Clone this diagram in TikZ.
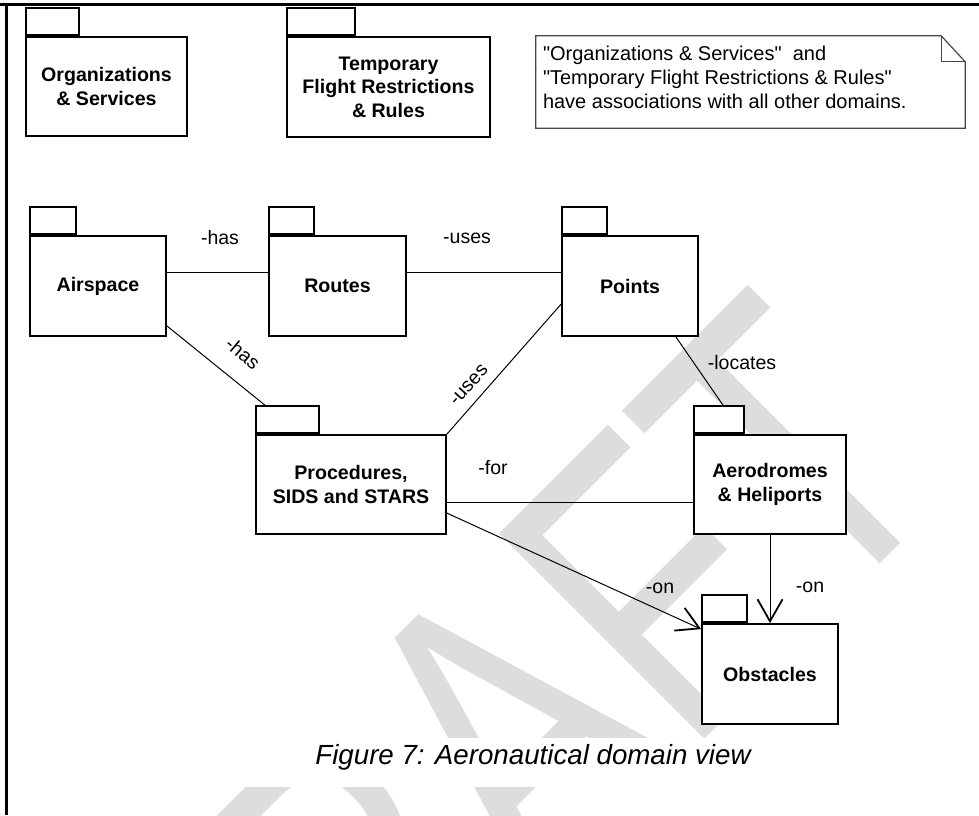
\documentclass[tikz,border=0pt]{standalone}
\usepackage{fontspec}
\setmainfont{Liberation Sans}
\usetikzlibrary{arrows.meta,calc}
\definecolor{wmgray}{RGB}{221,221,221}
\definecolor{notegray}{RGB}{70,70,70}
\begin{document}
\begin{tikzpicture}[x=1pt,y=-1pt,
  pkg/.style={draw=black, line width=1.8pt, fill=white, inner sep=0pt, align=center,
              font=\fontsize{19.6}{23.5}\selectfont\bfseries},
  pkgtab/.style={draw=black, line width=1.8pt, fill=white, inner sep=0pt,
                 minimum height=27pt, anchor=south west},
  assoc/.style={line width=1pt},
  navig/.style={line width=1pt, -{Straight Barb[length=22pt,width=25pt,line width=1.8pt]}},
  role/.style={font=\fontsize{19.5}{23}\selectfont, inner sep=0pt},
]
\useasboundingbox (0,0) rectangle (979,815);

% watermark behind the diagram
\node[font=\fontsize{315}{315}\selectfont, text=wmgray, inner sep=0pt,
      anchor=base west, rotate=45, yscale=1.34] (wm) at (215.9,1228) {DRAFT};
% caption band
\fill[white] (6.5,738) rectangle (979,787);

% packages
\node[pkg, minimum width=161pt, minimum height=99pt] (org) at (106.5,86.5) {Organizations\\\& Services};
\node[pkgtab, minimum width=53pt] (orgtab) at (org.north west) {};
\node[pkg, minimum width=203pt, minimum height=100pt] (tfr) at (388.5,87) {Temporary\\Flight Restrictions\\\& Rules};
\node[pkgtab, minimum width=68pt] (tfrtab) at (tfr.north west) {};

\node[pkg, minimum width=136pt, minimum height=100pt] (airspace) at (98,286) {Airspace};
\node[pkgtab, minimum width=46pt] (airspacetab) at (airspace.north west) {};
\node[pkg, minimum width=137pt, minimum height=100pt] (routes) at (337.5,286) {Routes};
\node[pkgtab, minimum width=45pt] (routestab) at (routes.north west) {};
\node[pkg, minimum width=136pt, minimum height=100pt] (points) at (630,286) {Points};
\node[pkgtab, minimum width=45pt] (pointstab) at (points.north west) {};

\node[pkg, minimum width=190pt, minimum height=99pt] (proc) at (351,484.5) {Procedures,\\SIDS and STARS};
\node[pkgtab, minimum width=63pt] (proctab) at (proc.north west) {};
\node[pkg, minimum width=152pt, minimum height=99pt] (aero) at (770,484.5) {Aerodromes\\\& Heliports};
\node[pkgtab, minimum width=50pt] (aerotab) at (aero.north west) {};
\node[pkg, minimum width=136pt, minimum height=100pt] (obst) at (770,674) {Obstacles};
\node[pkgtab, minimum width=45pt] (obsttab) at (obst.north west) {};

% associations
\draw[assoc] ([yshift=-37pt]airspace.north east) -- ([yshift=-37pt]routes.north west);
\draw[assoc] ([yshift=-37pt]routes.north east) -- ([yshift=-37pt]points.north west);
\draw[assoc] ([yshift=11pt]airspace.south east) -- ([xshift=10pt]proctab.north west);
\draw[assoc] (proc.north east) -- ([yshift=-69pt]points.north west);
\draw[assoc] ([xshift=-23pt]points.south east) -- ([xshift=30pt]aerotab.north west);
\draw[assoc] ([yshift=-68pt]proc.north east) -- ([yshift=-68pt]aero.north west);
\draw[navig] ([yshift=-79pt]proc.north east) -- ([yshift=-6pt]obst.north west);
\draw[navig] (aero.south) -- (obst.north);

% role names
\node[role] (r1) at (220,238) {-has};
\node[role] (r2) at (467,238) {-uses};
\node[role, rotate=-40] (r3) at (243,353) {-has};
\node[role, rotate=48] (r4) at (469,385) {-uses};
\node[role] (r5) at (742,363) {-locates};
\node[role] (r6) at (493,468) {-for};
\node[role] (r7) at (660,588) {-on};
\node[role] (r8) at (810,587) {-on};

% note
\node[minimum width=429pt, minimum height=92pt, inner sep=0pt] (note) at (750.5,82) {};
\draw[notegray, line width=1.2pt, fill=white]
  (note.north west) -- ([xshift=-24pt]note.north east) -- ([yshift=-26pt]note.north east)
  -- (note.south east) -- (note.south west) -- cycle;
\draw[notegray, line width=1.2pt] ([xshift=-24pt]note.north east) |- ([yshift=-26pt]note.north east);
\node[anchor=west, align=left, inner sep=0pt, font=\fontsize{20}{24.3}\selectfont] (notetext)
  at ([xshift=7pt,yshift=4.5pt]note.west)
  {\textquotedbl Organizations \& Services\textquotedbl\ \ and\\\textquotedbl Temporary Flight Restrictions \& Rules\textquotedbl\\have associations with all other domains.};

% caption
\node[font=\fontsize{27.7}{32}\selectfont\itshape, inner sep=0pt] (caption) at (533,757) {Figure 7: Aeronautical domain view};

% frame
\draw[line width=2.5pt] (0,4.5) -- (979,4.5);
\draw[line width=2.5pt] (6.5,4.5) -- (6.5,815);
\end{tikzpicture}
\end{document}
